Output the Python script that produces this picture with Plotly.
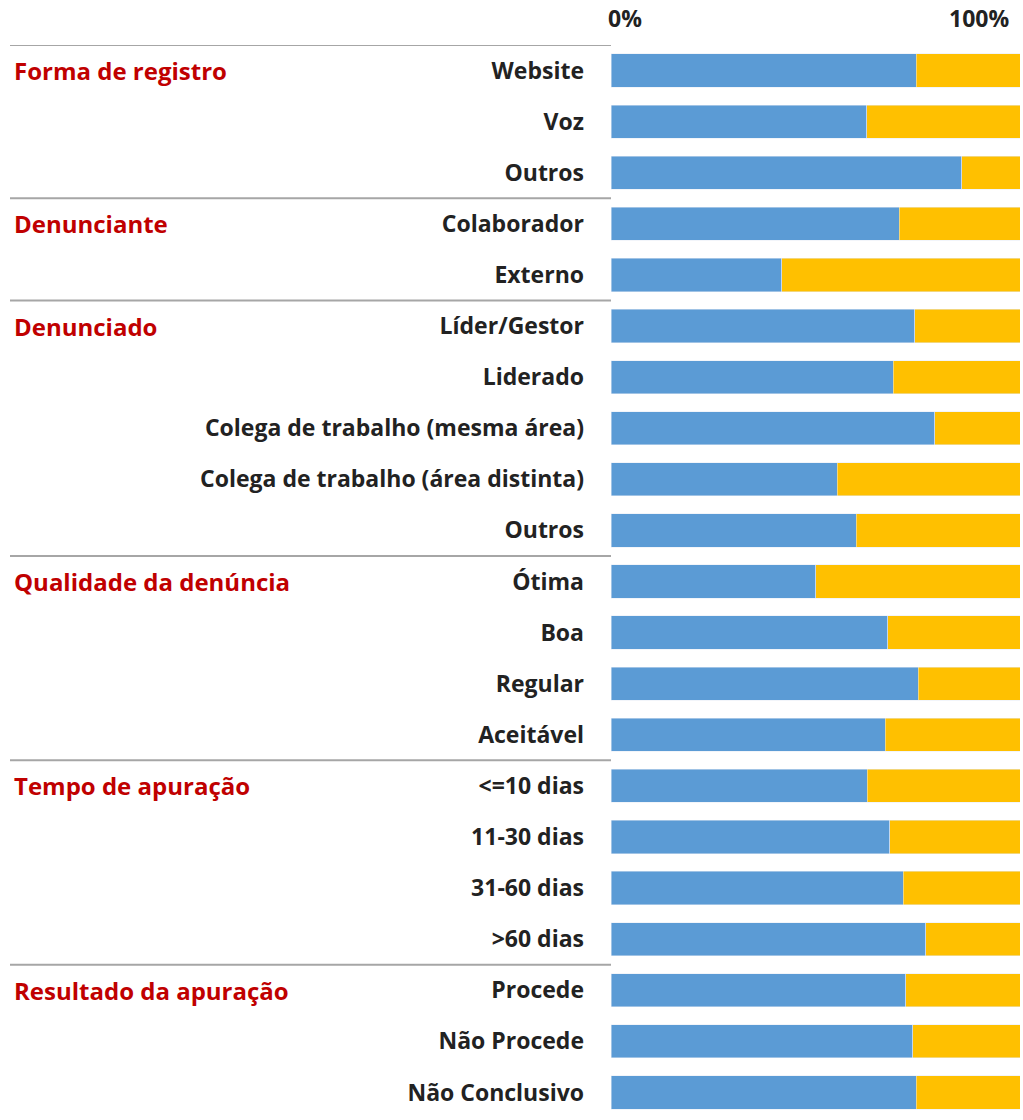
import plotly.graph_objects as go

categorias = ["Website", "Voz", "Outros",
              "Colaborador", "Externo",
              "Líder/Gestor", "Liderado", "Colega de trabalho (mesma área)",
              "Colega de trabalho (área distinta)", "Outros",
              "Ótima", "Boa", "Regular", "Aceitável",
              "<=10 dias", "11-30 dias", "31-60 dias", ">60 dias",
              "Procede", "Não Procede", "Não Conclusivo"]
azul = [74.6, 62.5, 85.8,
        70.5, 41.8,
        74.3, 69.0, 79.2, 55.3, 60.0,
        50.1, 67.7, 75.1, 67.0,
        62.6, 68.2, 71.4, 77.0,
        72.1, 73.8, 74.6]
amarelo = [25.4, 37.5, 14.2,
           29.5, 58.2,
           25.7, 31.0, 20.8, 44.7, 40.0,
           49.9, 32.3, 24.9, 33.0,
           37.4, 31.8, 28.6, 23.0,
           27.9, 26.2, 25.4]
grupos = ["Forma de registro", "Denunciante", "Denunciado",
          "Qualidade da denúncia", "Tempo de apuração", "Resultado da apuração"]
inicio_grupo = [0, 3, 5, 10, 14, 18]

y = list(range(len(categorias)))
FONTE = "Open Sans"

fig = go.Figure()
fig.add_trace(go.Bar(y=y, x=azul, orientation="h", marker_color="#5B9BD5",
                     width=0.65, showlegend=False))
fig.add_trace(go.Bar(y=y, x=amarelo, orientation="h", marker_color="#FFC000",
                     width=0.65, showlegend=False))

L, R = 611, 3
W = 1023 - L - R
x_esq = (10 - L) / W

# linhas separadoras dos grupos
for g in inicio_grupo:
    fig.add_shape(type="line", xref="paper", yref="y", x0=x_esq, x1=0,
                  y0=g - 0.5, y1=g - 0.5, line=dict(color="#A6A6A6", width=2))

for nome, g in zip(grupos, inicio_grupo):
    fig.add_annotation(text=nome, xref="paper", yref="y", x=(12 - L) / W, y=g,
                       xanchor="left", yanchor="middle", showarrow=False,
                       font=dict(family=FONTE, size=24, color="#C00000", weight="bold"))

fig.add_annotation(text="0%", xref="x", yref="paper", x=0, y=1, yshift=9,
                   xanchor="left", yanchor="bottom", showarrow=False, xshift=-5,
                   font=dict(family=FONTE, size=23, color="#222", weight="bold"))
fig.add_annotation(text="100%", xref="x", yref="paper", x=100, y=1, yshift=9,
                   xanchor="right", yanchor="bottom", showarrow=False, xshift=-9,
                   font=dict(family=FONTE, size=23, color="#222", weight="bold"))

fig.update_layout(
    width=1023, height=1120,
    margin=dict(l=L, r=R, t=45, b=2),
    barmode="stack",
    plot_bgcolor="white", paper_bgcolor="white",
    xaxis=dict(range=[0, 100], showticklabels=False, showgrid=False, zeroline=False,
               automargin=False,
               minor=dict(dtick=20, showgrid=True, gridcolor="#E4E4E4", gridwidth=1)),
    yaxis=dict(tickvals=y, ticktext=categorias,
               range=[len(categorias) - 0.5, -0.5], showgrid=False, zeroline=False,
               automargin=False, ticklabelstandoff=26,
               tickfont=dict(family=FONTE, size=23, color="#222", weight="bold")),
)

fig.write_html("out.html", config={"displayModeBar": False},
               post_script="document.body.style.margin='0';")
